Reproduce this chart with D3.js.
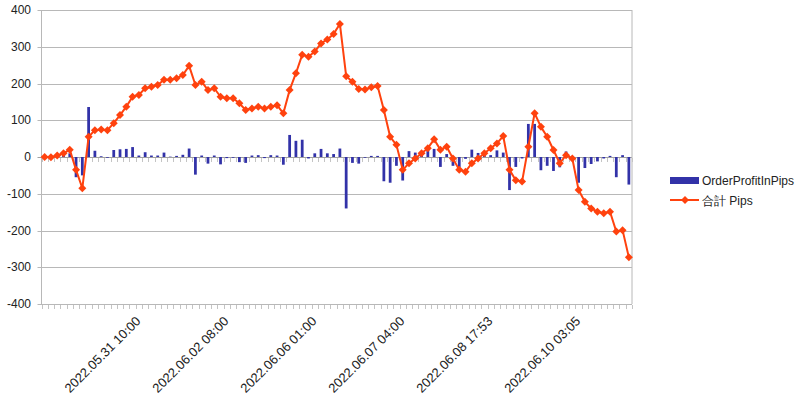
<!DOCTYPE html>
<html>
<head>
<meta charset="utf-8">
<script src="https://cdn.jsdelivr.net/npm/d3@7"></script>
<style>
  body { margin: 0; background: #fff; }
  text { font-family: "Liberation Sans", Arial, sans-serif; }
</style>
</head>
<body>
<div id="chart"></div>
<script>
// per-order profit (bars)
let orderProfit = [0, -1, 4, 6, 10, -55, -50, 136, 17, 2,
  -2, 19, 21, 22, 27, 4, 13, 4, 4, 12,
  1, 3, 6, 23, -48, 4, -18, 4, -20, -3,
  -2, -14, -16, 4, 5, -3, 5, 4, -21, 60,
  44, 47, -4, 10, 22, 10, 8, 23, -140, -16,
  -18, -2, 3, 3, -66, -70, -24, -64, 16, 12,
  13, 20, 22, -27, 8, -24, -28, -5, 20, 11,
  13, 5, 18, 12, -90, -27, -4, 90, 90, -36,
  -24, -38, -28, 15, -8, -70, -30, -19, -12, -4,
  3, -55, 5, -75];

// running total (line)
let totalPips = [0, -1, 4, 10, 20, -35, -85, 55, 73, 75,
  73, 92, 114, 137, 164, 169, 187, 191, 196, 210,
  210, 214, 223, 248, 196, 205, 182, 187, 164, 160,
  160, 146, 128, 132, 137, 132, 137, 141, 119, 182,
  228, 278, 273, 287, 309, 320, 335, 362, 220, 205,
  185, 184, 190, 193, 128, 55, 33, -35, -17, -4,
  10, 24, 48, 20, 28, -4, -35, -40, -17, -4,
  10, 24, 37, 57, -35, -63, -67, 28, 119, 82,
  55, 19, -17, 5, -4, -90, -122, -140, -149, -153,
  -149, -203, -199, -273];

let categories = orderProfit.map(function(d, i) { return i; });

// only a few category labels are shown on the axis
let labelIndex = [14, 28, 42, 56, 70, 84];
let labelText = ["2022.05.31 10:00", "2022.06.02 08:00", "2022.06.06 01:00",
  "2022.06.07 04:00", "2022.06.08 17:53", "2022.06.10 03:05"];

let yTicks = [400, 300, 200, 100, 0, -100, -200, -300, -400];

let seriesNames = ["OrderProfitInPips", "合計 Pips"];

let config = { svg: {}, plot: {} };
config.svg.width = 800;
config.svg.height = 396;
config.plot.left = 41.5;
config.plot.right = 632;
config.plot.top = 10;
config.plot.bottom = 304;

let barColor = "#3232a8";
let lineColor = "#ff420e";
let gridColor = "#b8b8b8";

let svg = d3.select("#chart").append("svg")
  .attr("width", config.svg.width)
  .attr("height", config.svg.height)
  .style("display", "block");

let x = d3.scaleBand()
  .domain(categories)
  .range([config.plot.left, config.plot.right])
  .paddingInner(0.56)
  .paddingOuter(0.28);

let y = d3.scaleLinear()
  .domain([-400, 400])
  .range([config.plot.bottom, config.plot.top]);

function cx(i) { return x(i) + x.bandwidth() / 2; }

// horizontal grid lines, extending a little left of the axis as ticks
svg.append("g").selectAll("line")
  .data(yTicks).enter()
  .append("line")
  .attr("x1", config.plot.left - 4)
  .attr("x2", config.plot.right)
  .attr("y1", function(d) { return Math.round(y(d)) + 0.5; })
  .attr("y2", function(d) { return Math.round(y(d)) + 0.5; })
  .style("stroke", function(d) { return d === 0 ? "#a0a0a0" : gridColor; })
  .style("stroke-width", 1);

// plot frame: left axis and right border
svg.append("line")
  .attr("x1", config.plot.left).attr("x2", config.plot.left)
  .attr("y1", config.plot.top).attr("y2", config.plot.bottom)
  .style("stroke", gridColor);
svg.append("line")
  .attr("x1", config.plot.right).attr("x2", config.plot.right)
  .attr("y1", config.plot.top).attr("y2", config.plot.bottom)
  .style("stroke", gridColor);

// y tick labels
svg.append("g").selectAll("text")
  .data(yTicks).enter()
  .append("text")
  .attr("x", 31)
  .attr("y", function(d) { return y(d); })
  .attr("dy", "0.35em")
  .style("text-anchor", "end")
  .style("font-size", "12px")
  .style("fill", "#222")
  .text(function(d) { return d; });

// category tick marks at the zero line and at the bottom
let bounds = d3.range(categories.length + 1);
let step = x.step();
[0, -400].forEach(function(v) {
  svg.append("g").selectAll("line")
    .data(bounds).enter()
    .append("line")
    .attr("x1", function(k) { return Math.round(config.plot.left + k * step) + 0.5; })
    .attr("x2", function(k) { return Math.round(config.plot.left + k * step) + 0.5; })
    .attr("y1", Math.round(y(v)) + 1)
    .attr("y2", Math.round(y(v)) + 5)
    .style("stroke", "#c4c4c4");
});

// bars
svg.append("g").selectAll("rect")
  .data(orderProfit).enter()
  .append("rect")
  .attr("x", function(d, i) { return x(i); })
  .attr("width", x.bandwidth())
  .attr("y", function(d) { return y(Math.max(0, d)); })
  .attr("height", function(d) { return Math.abs(y(d) - y(0)); })
  .style("fill", barColor);

// running total line
let line = d3.line()
  .x(function(d, i) { return cx(i); })
  .y(function(d) { return y(d); });

svg.append("path")
  .datum(totalPips)
  .attr("d", line)
  .style("fill", "none")
  .style("stroke", lineColor)
  .style("stroke-width", 2)
  .style("stroke-linejoin", "round");

let diamond = d3.symbol().type(d3.symbolSquare).size(32);
svg.append("g").selectAll("path")
  .data(totalPips).enter()
  .append("path")
  .attr("d", diamond)
  .attr("transform", function(d, i) { return "translate(" + cx(i) + "," + y(d) + ") rotate(45)"; })
  .style("fill", lineColor);

// rotated category labels
svg.append("g").selectAll("text")
  .data(labelIndex).enter()
  .append("text")
  .attr("transform", function(d) { return "translate(" + (cx(d) + 2) + ",315) rotate(-45)"; })
  .attr("dy", "0.75em")
  .style("text-anchor", "end")
  .style("font-size", "13px")
  .style("fill", "#222")
  .text(function(d, k) { return labelText[k]; });

// legend
let legend = svg.append("g").attr("transform", "translate(670,0)");
legend.append("rect")
  .attr("x", 0).attr("y", 177)
  .attr("width", 29).attr("height", 7)
  .style("fill", barColor);
legend.append("text")
  .attr("x", 32).attr("y", 185)
  .style("font-size", "12px")
  .style("fill", "#222")
  .text(seriesNames[0]);
legend.append("line")
  .attr("x1", 0).attr("x2", 29)
  .attr("y1", 200).attr("y2", 200)
  .style("stroke", lineColor)
  .style("stroke-width", 2);
legend.append("path")
  .attr("d", diamond)
  .attr("transform", "translate(15,200) rotate(45)")
  .style("fill", lineColor);
legend.append("text")
  .attr("x", 32).attr("y", 205)
  .style("font-size", "12px")
  .style("fill", "#222")
  .text(seriesNames[1]);
</script>
</body>
</html>
